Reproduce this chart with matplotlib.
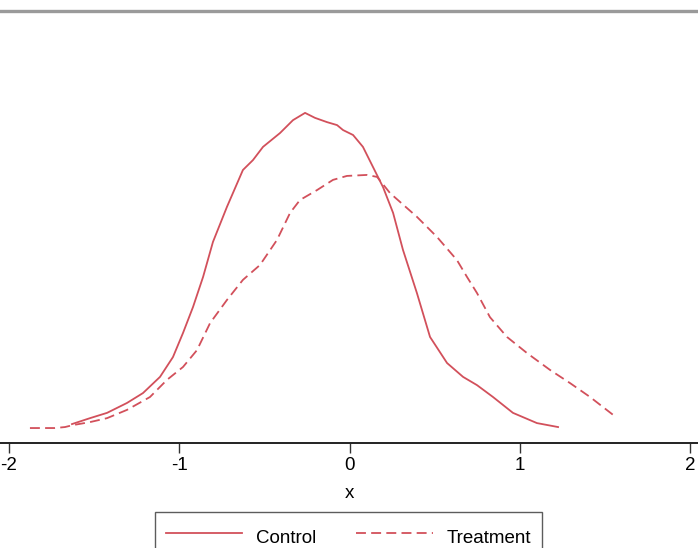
import matplotlib
matplotlib.use("Agg")
import matplotlib.pyplot as plt
from matplotlib.lines import Line2D

plt.rcParams['font.family'] = ['Liberation Sans', 'DejaVu Sans']

# Kernel density estimates
control_x = [-1.630, -1.524, -1.424, -1.307, -1.213, -1.113, -1.037, -0.978, -0.919, -0.860,
             -0.802, -0.720, -0.626, -0.567, -0.508, -0.408, -0.332, -0.261, -0.203, -0.132,
             -0.073, -0.038, 0.021, 0.079, 0.138, 0.197, 0.256, 0.314, 0.396, 0.473,
             0.573, 0.667, 0.749, 0.843, 0.960, 1.101, 1.225]
control_y = [0.024, 0.042, 0.058, 0.088, 0.118, 0.167, 0.227, 0.300, 0.379, 0.470,
             0.576, 0.682, 0.794, 0.824, 0.864, 0.906, 0.945, 0.967, 0.952, 0.939,
             0.930, 0.915, 0.900, 0.864, 0.803, 0.742, 0.664, 0.552, 0.421, 0.288,
             0.209, 0.167, 0.142, 0.106, 0.058, 0.027, 0.015]

treat_x = [-1.877, -1.730, -1.671, -1.624, -1.524, -1.424, -1.307, -1.172, -1.072, -0.978,
           -0.896, -0.819, -0.720, -0.626, -0.526, -0.426, -0.349, -0.291, -0.191, -0.097,
           -0.015, 0.103, 0.162, 0.238, 0.396, 0.514, 0.631, 0.690, 0.749, 0.825,
           0.925, 1.043, 1.178, 1.296, 1.413, 1.548]
treat_y = [0.012, 0.012, 0.015, 0.021, 0.030, 0.042, 0.067, 0.106, 0.158, 0.197,
           0.248, 0.330, 0.400, 0.461, 0.506, 0.582, 0.664, 0.703, 0.733, 0.764,
           0.776, 0.779, 0.773, 0.724, 0.652, 0.591, 0.521, 0.470, 0.421, 0.348,
           0.288, 0.239, 0.188, 0.148, 0.106, 0.052]

xticks = [-2, -1, 0, 1, 2]
xlabel = "x"
series_labels = ["Control", "Treatment"]

W, H = 698, 548
fig = plt.figure(figsize=(W / 100, H / 100), dpi=100)
ax_bottom = 443
ax_top = 11
ax = fig.add_axes([0, 1 - ax_bottom / H, 1, (ax_bottom - ax_top) / H])

color = '#d2505b'
dash = (5.5, 2.9)
ax.plot(control_x, control_y, color=color, lw=1.3, solid_joinstyle='round')
ax.plot(treat_x, treat_y, color=color, lw=1.3, dashes=dash)

# x scale: -2 at px 9, 2 at px 690
px_per_unit = (690 - 9) / 4
x0 = 9 - (-2) * px_per_unit
ax.set_xlim((0 - x0) / px_per_unit, (W - x0) / px_per_unit)
# y scale: zero at px 432
ypx = 330
ax.set_ylim((432 - ax_bottom) / ypx, (432 - ax_top) / ypx)

ax.set_xticks(xticks)
ax.set_xticklabels([str(t) for t in xticks])
ax.set_yticks([])
ax.tick_params(axis='x', direction='out', length=7, width=1.0, color='#333333',
               labelsize=13.5, pad=3)
ax.set_xlabel(xlabel, fontsize=13.5, labelpad=8)

for s in ['left', 'right']:
    ax.spines[s].set_visible(False)
ax.spines['bottom'].set_color('#222222')
ax.spines['bottom'].set_linewidth(1.4)
ax.spines['top'].set_color('#9a9a9a')
ax.spines['top'].set_linewidth(2.4)

handles = [Line2D([], [], color=color, lw=1.3),
           Line2D([], [], color=color, lw=1.3, dashes=dash)]
leg = fig.legend(handles, series_labels, loc='upper center',
                 bbox_to_anchor=((155 + 542) / 2 / W, 1 - 512 / H),
                 ncol=2, frameon=True, fancybox=False, fontsize=13.5,
                 handlelength=4.1, columnspacing=2.1, handletextpad=0.75,
                 handleheight=2.0, borderpad=0.55, borderaxespad=0)
leg.get_frame().set_edgecolor('#333333')
leg.get_frame().set_linewidth(1.0)

fig.savefig('out.png', dpi=100)
